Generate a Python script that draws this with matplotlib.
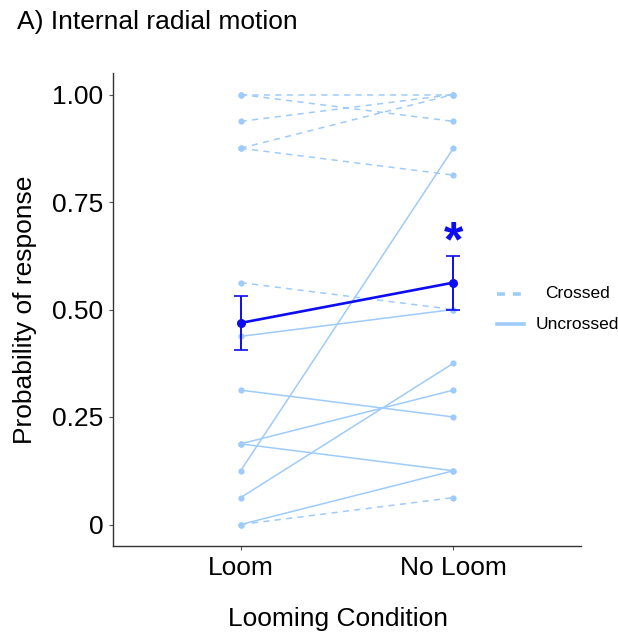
import numpy as np
import matplotlib
matplotlib.use("Agg")
import matplotlib.pyplot as plt
from matplotlib.lines import Line2D

plt.rcParams['font.family'] = ['Liberation Sans', 'DejaVu Sans']

## Data (proportions, steps of 1/16)
conditions = ["Loom", "No Loom"]

crossed_loom = [1.0, 1.0, 0.9375, 0.875, 0.875, 0.5625, 0.0]
crossed_noloom = [1.0, 0.9375, 1.0, 1.0, 0.8125, 0.5, 0.0625]

uncrossed_loom = [0.125, 0.4375, 0.3125, 0.1875, 0.1875, 0.0625, 0.0]
uncrossed_noloom = [0.875, 0.5, 0.25, 0.3125, 0.125, 0.375, 0.125]

mean_err = [0.0625, 0.0625]  # error bar half widths as read

legend_labels = ["Crossed", "Uncrossed"]

light = "#9ECBFA"
dark = "#0D0DF2"
W, H = 618, 635

## Figure
fig = plt.figure(figsize=(W/100, H/100), dpi=100)
ax = fig.add_axes([113/W, 1 - 546/H, 468/W, 473/H])

x = np.arange(len(conditions)) + 1

# individual subjects
for a, b in zip(crossed_loom, crossed_noloom):
    ax.plot(x, [a, b], color=light, lw=1.1, ls=(0, (4, 3.5)), marker="o", ms=4.5,
            markeredgewidth=0, zorder=2)
for a, b in zip(uncrossed_loom, uncrossed_noloom):
    ax.plot(x, [a, b], color=light, lw=1.1, ls="-", marker="o", ms=4.5,
            markeredgewidth=0, zorder=2)

# group mean
all_loom = np.array(crossed_loom + uncrossed_loom)
all_noloom = np.array(crossed_noloom + uncrossed_noloom)
means = [all_loom.mean(), all_noloom.mean()]
ax.errorbar(x, means, yerr=mean_err, color=dark, lw=1.9, marker="o", ms=5.5,
            elinewidth=1.4, capsize=5, capthick=1.2, zorder=4)

# significance star
ax.text(x[1], means[1] + mean_err[1] + 0.03, "*", color=dark, fontsize=36,
        fontweight="bold", ha="center", va="center")

ax.set_xlim(0.4, 2.6)
ax.set_ylim(-0.05, 1.05)
ax.set_xticks(x)
ax.set_xticklabels(conditions, fontsize=19)
ax.set_yticks([0, 0.25, 0.5, 0.75, 1.0])
ax.set_yticklabels(["0", "0.25", "0.50", "0.75", "1.00"], fontsize=19)
ax.tick_params(length=3, width=0.8, color="#555555", pad=4)

for s in ["top", "right"]:
    ax.spines[s].set_visible(False)
for s in ["left", "bottom"]:
    ax.spines[s].set_color("#333333")
    ax.spines[s].set_linewidth(1.0)

ax.set_xlabel("Looming Condition", fontsize=19)
ax.xaxis.set_label_coords((338 - 113)/468, -0.13)
ax.set_ylabel("Probability of response", fontsize=19, labelpad=11)

fig.text(17/W, 1 - 22/H, "A) Internal radial motion", fontsize=19,
         ha="left", va="center")

# legend drawn by hand (handles left, labels centred)
leg_y = [294, 324]
leg_styles = [(0, (2.2, 2.2)), "-"]
for yy, st, lab in zip(leg_y, leg_styles, legend_labels):
    fig.add_artist(Line2D([497/W, 524/W], [1 - yy/H, 1 - yy/H], color=light,
                          lw=2.6, ls=st, transform=fig.transFigure))
    fig.text(577/W, 1 - yy/H, lab, fontsize=12.5, ha="center", va="center")

fig.savefig("out.png", dpi=100)
